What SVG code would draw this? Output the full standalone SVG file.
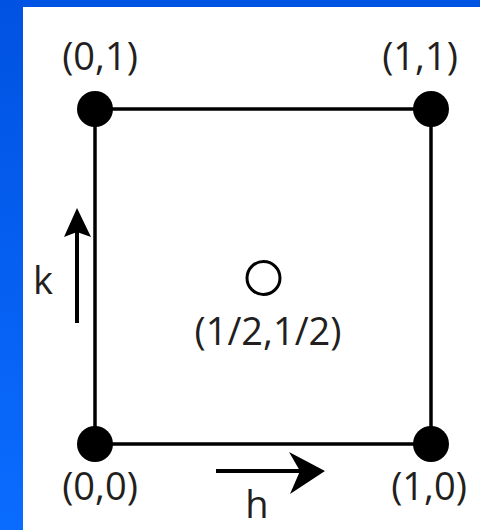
<svg xmlns="http://www.w3.org/2000/svg" width="480" height="530" viewBox="0 0 480 530">
  <defs>
    <linearGradient id="blueGrad" x1="0" y1="0" x2="0" y2="1">
      <stop offset="0" stop-color="#0052E2"/>
      <stop offset="1" stop-color="#0A6CFF"/>
    </linearGradient>
    <style>
      .lbl { font-family: "Open Sans", "Liberation Sans", sans-serif; font-size: 38px; fill: #231F20; text-anchor: middle; }
      .edge { stroke: #000; stroke-width: 3.5; fill: none; }
      .dot { fill: #000; }
      .shaft { stroke: #000; stroke-width: 4; fill: none; }
    </style>
  </defs>
  <rect x="0" y="0" width="480" height="530" fill="#FFFFFF"/>
  <rect x="0" y="0" width="480" height="7" fill="#0054E4"/>
  <rect x="0" y="0" width="23" height="530" fill="url(#blueGrad)"/>

  <g id="connectors">
    <line class="edge" x1="95" y1="109" x2="431" y2="109"/>
    <line class="edge" x1="95" y1="444" x2="431" y2="444"/>
    <line class="edge" x1="95" y1="109" x2="95" y2="444"/>
    <line class="edge" x1="431" y1="109" x2="431" y2="444"/>
  </g>

  <g id="node-00">
    <circle class="dot" cx="95" cy="444" r="18"/>
    <text class="lbl" x="100" y="500">(0,0)</text>
  </g>
  <g id="node-10">
    <circle class="dot" cx="431" cy="444" r="18"/>
    <text class="lbl" x="429" y="500">(1,0)</text>
  </g>
  <g id="node-01">
    <circle class="dot" cx="95" cy="109" r="18"/>
    <text class="lbl" x="100" y="70">(0,1)</text>
  </g>
  <g id="node-11">
    <circle class="dot" cx="431" cy="109" r="18"/>
    <text class="lbl" x="420" y="70">(1,1)</text>
  </g>
  <g id="node-center">
    <circle cx="263.5" cy="278" r="16.5" fill="none" stroke="#000" stroke-width="3"/>
    <text class="lbl" x="268" y="345">(1/2,1/2)</text>
  </g>

  <g id="arrow-h">
    <line class="shaft" x1="216" y1="471" x2="302" y2="471"/>
    <path d="M325 471 L289 452 L300 471 L290 494 Z" fill="#000"/>
    <text class="lbl" x="257" y="518">h</text>
  </g>
  <g id="arrow-k">
    <line class="shaft" x1="77" y1="323" x2="77" y2="230"/>
    <path d="M77 208 L64 237 L77 232 L91 237 Z" fill="#000"/>
    <text class="lbl" x="43" y="294">k</text>
  </g>
</svg>
